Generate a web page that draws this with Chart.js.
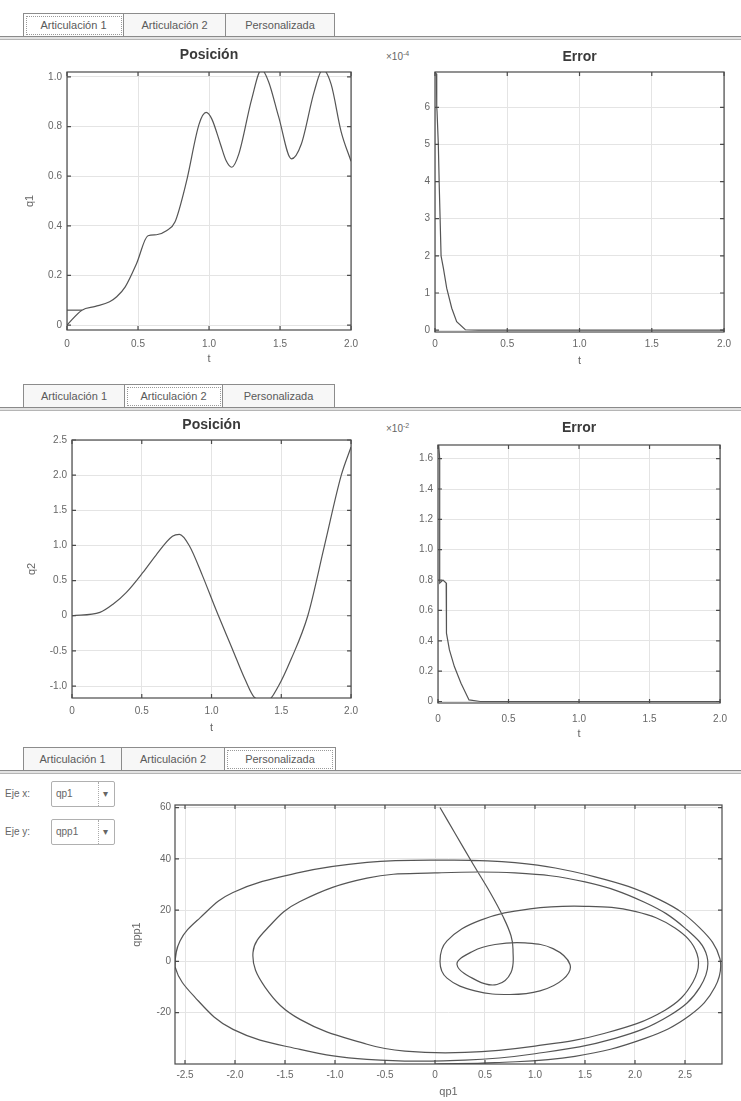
<!DOCTYPE html>
<html>
<head>
<meta charset="utf-8">
<script src="https://cdn.jsdelivr.net/npm/chart.js@4.4.1/dist/chart.umd.min.js"></script>
<style>
body { margin: 0; width: 741px; height: 1101px; background: #fff; position: relative; overflow: hidden;
       font-family: "Liberation Sans", Arial, sans-serif; color: #555; }
canvas { position: absolute; }
.strip { position: absolute; left: 23px; height: 23px; display: flex; border: 1px solid #8c8c8c; border-bottom: none; background: #f7f7f7; z-index: 2; }
.tab { height: 23px; line-height: 23px; font-size: 11px; color: #5a5a5a; text-align: center; border-right: 1px solid #8c8c8c; box-sizing: border-box; }
.tab:last-child { border-right: none; }
.sel { background: #fff; outline: 1px dotted #9a9a9a; outline-offset: -3px; }
.rule { position: absolute; left: 0; width: 741px; height: 2px; border-top: 1px solid #8a8a8a; border-bottom: 1px solid #b5b5b5; background: #e2e2e2; z-index: 2; }
.lbl { position: absolute; left: 5px; font-size: 10px; color: #666; }
.dd { position: absolute; left: 51px; width: 64px; height: 26px; box-sizing: border-box; border: 1px solid #b0b0b0; border-radius: 2px; font-size: 10px; color: #666; line-height: 24px; padding-left: 4px; background: #fff; }
.dd .arr { position: absolute; right: 3px; top: 0; width: 12px; text-align: center; border-left: 1px dotted #aaa; }
.exp { position: absolute; font-size: 10px; color: #666; }
.exp sup { font-size: 7px; }
</style>
</head>
<body>

<div class="strip" style="top:13px">
  <div class="tab sel" style="width:100px">Articulación 1</div>
  <div class="tab" style="width:102px">Articulación 2</div>
  <div class="tab" style="width:108px">Personalizada</div>
</div>
<div class="rule" style="top:36px"></div>

<div class="strip" style="top:384px">
  <div class="tab" style="width:101px">Articulación 1</div>
  <div class="tab sel" style="width:98px">Articulación 2</div>
  <div class="tab" style="width:111px">Personalizada</div>
</div>
<div class="rule" style="top:407px"></div>

<div class="strip" style="top:747px">
  <div class="tab" style="width:98px">Articulación 1</div>
  <div class="tab" style="width:103px">Articulación 2</div>
  <div class="tab sel" style="width:110px">Personalizada</div>
</div>
<div class="rule" style="top:770px"></div>

<div class="lbl" style="top:788px">Eje x:</div>
<div class="dd" style="top:781px">qp1<span class="arr">▾</span></div>
<div class="lbl" style="top:826px">Eje y:</div>
<div class="dd" style="top:819px">qpp1<span class="arr">▾</span></div>

<div class="exp" style="left:386px; top:50px">×10<sup>-4</sup></div>
<div class="exp" style="left:386px; top:422px">×10<sup>-2</sup></div>

<canvas id="pos1"></canvas>
<canvas id="err1"></canvas>
<canvas id="pos2"></canvas>
<canvas id="err2"></canvas>
<canvas id="phase"></canvas>

<script>
// ---- data ----
const t1 = [0, 0.105, 0.2, 0.3, 0.35, 0.41, 0.49, 0.57, 0.63, 0.7, 0.76, 0.84, 0.93, 0.98, 1.02, 1.08, 1.12, 1.16, 1.21, 1.3, 1.37, 1.42, 1.49, 1.58, 1.65, 1.74, 1.8, 1.86, 1.93, 2.0]
const q1 = [0, 0.06, 0.075, 0.094, 0.114, 0.154, 0.248, 0.36, 0.364, 0.38, 0.415, 0.576, 0.81, 0.857, 0.83, 0.73, 0.663, 0.636, 0.69, 0.91, 1.03, 0.98, 0.84, 0.67, 0.73, 0.94, 1.03, 0.97, 0.78, 0.66]
const q1RefT = [0, 0.105]
const q1Ref = [0.06, 0.06]

const errT1 = [0, 0.01, 0.012, 0.014, 0.023, 0.03, 0.042, 0.058, 0.081, 0.116, 0.15, 0.21, 0.3, 2.0]
const err1 = [6.95, 6.9, 6.0, 5.9, 5.0, 3.8, 2.0, 1.67, 1.13, 0.59, 0.23, 0.01, 0, 0]

const t2 = [0, 0.2, 0.296, 0.39, 0.51, 0.6, 0.72, 0.77, 0.84, 0.935, 1.03, 1.15, 1.24, 1.31, 1.4, 1.48, 1.57, 1.69, 1.81, 1.93, 2.0]
const q2 = [0, 0.048, 0.167, 0.333, 0.62, 0.857, 1.13, 1.157, 1.0, 0.571, 0.095, -0.476, -0.905, -1.167, -1.21, -1.0, -0.62, 0, 1.0, 2.0, 2.4]

const errT2 = [0.005, 0.012, 0.012, 0.035, 0.058, 0.06, 0.081, 0.116, 0.163, 0.22, 0.3, 2.0]
const err2 = [1.69, 1.6, 0.78, 0.8, 0.78, 0.45, 0.34, 0.23, 0.12, 0.01, 0, 0]

const qp1 = [0.05, 0.2, 0.38, 0.55, 0.68, 0.76, 0.78, 0.76, 0.62, 0.42, 0.22,
  0.38, 0.6, 0.9, 1.18, 1.35, 1.28, 1.05, 0.75, 0.4, 0.12, 0.05, 0.12,
  0.45, 0.95, 1.5, 2.0, 2.4, 2.62, 2.58, 2.3, 1.7, 1.0, 0.3, -0.3, -0.68, -1.35, -1.7, -1.82, -1.65, -1.35, -0.68, 0,
  0.8, 1.5, 2.1, 2.5, 2.72, 2.65, 2.35, 1.8, 1.0, 0.3, -0.68, -1.35, -2.02, -2.4, -2.6, -2.55, -2.35, -2.02, -1.35, -0.68, 0,
  0.8, 1.6, 2.25, 2.65, 2.85, 2.8, 2.55, 2.1, 1.4, 0.6, 0]
const qpp1 = [60, 50, 38, 27, 17.5, 10, 4.7, -4.3, -9, -7.5, -1.2,
  4, 6.6, 7.2, 5, -1.2, -7, -11.5, -12.9, -11.5, -6.5, 0, 8,
  16, 20.5, 21.5, 19.5, 13, 3, -8, -19, -28, -33, -35.5, -35, -32.3, -22.6, -10, 3.5, 14, 23.4, 32.5, 34.5,
  34.5, 31, 23, 13, 2, -10, -21, -30, -36, -38.5, -38.2, -34.3, -26.5, -14, -2, 8, 17, 26.9, 34.7, 38.6, 39.5,
  38.5, 33, 24, 13, 1, -10, -21, -30, -37, -39.5, -40]

// ---- ticks ----
const tTicks = [0, 0.5, 1, 1.5, 2]
const tLabels = ['0', '0.5', '1.0', '1.5', '2.0']
const q1Ticks = [0, 0.2, 0.4, 0.6, 0.8, 1.0]
const q1Labels = ['0', '0.2', '0.4', '0.6', '0.8', '1.0']
const err1Ticks = [0, 1, 2, 3, 4, 5, 6]
const err1Labels = ['0', '1', '2', '3', '4', '5', '6']
const q2Ticks = [-1, -0.5, 0, 0.5, 1, 1.5, 2, 2.5]
const q2Labels = ['-1.0', '-0.5', '0', '0.5', '1.0', '1.5', '2.0', '2.5']
const err2Ticks = [0, 0.2, 0.4, 0.6, 0.8, 1.0, 1.2, 1.4, 1.6]
const err2Labels = ['0', '0.2', '0.4', '0.6', '0.8', '1.0', '1.2', '1.4', '1.6']
const qp1Ticks = [-2.5, -2, -1.5, -1, -0.5, 0, 0.5, 1, 1.5, 2, 2.5]
const qp1Labels = ['-2.5', '-2.0', '-1.5', '-1.0', '-0.5', '0', '0.5', '1.0', '1.5', '2.0', '2.5']
const qpp1Ticks = [-20, 0, 20, 40, 60]
const qpp1Labels = ['-20', '0', '20', '40', '60']

Chart.defaults.font.family = '"Liberation Sans", Arial, sans-serif'
Chart.defaults.color = '#666'

function pts(xs, ys) {
    return xs.map((x, i) => ({ x: x, y: ys[i] }))
}

function line(xs, ys, smooth) {
    let ds = { data: pts(xs, ys), showLine: true, pointRadius: 0, borderColor: '#555', borderWidth: 1.2 }
    if (smooth === 'mono') ds.cubicInterpolationMode = 'monotone'
    else if (smooth) ds.tension = smooth
    return ds
}

// box round the plot with inward tick marks, like matlab
const matlabBox = {
    id: 'matlabBox',
    afterDatasetsDraw(chart) {
        const { ctx, chartArea: a, scales: { x, y } } = chart
        ctx.save()
        ctx.strokeStyle = '#4a4a4a'
        ctx.lineWidth = 1.2
        ctx.strokeRect(a.left, a.top, a.right - a.left, a.bottom - a.top)
        ctx.beginPath()
        x.ticks.forEach(t => {
            const px = x.getPixelForValue(t.value)
            ctx.moveTo(px, a.bottom); ctx.lineTo(px, a.bottom - 4)
            ctx.moveTo(px, a.top); ctx.lineTo(px, a.top + 4)
        })
        y.ticks.forEach(t => {
            const py = y.getPixelForValue(t.value)
            ctx.moveTo(a.left, py); ctx.lineTo(a.left + 4, py)
            ctx.moveTo(a.right, py); ctx.lineTo(a.right - 4, py)
        })
        ctx.stroke()
        ctx.restore()
    }
}

function makePlot(id, area, pad, o) {
    const cv = document.getElementById(id)
    cv.width = area.w + pad.l + pad.r
    cv.height = area.h + pad.t + pad.b
    cv.style.left = (area.x - pad.l) + 'px'
    cv.style.top = (area.y - pad.t) + 'px'
    let titleTop = o.title ? o.titleY - 7 - (area.y - pad.t) : 0

    return new Chart(cv, {
        type: 'scatter',
        data: { datasets: o.datasets },
        options: {
            responsive: false,
            animation: false,
            events: [],
            layout: { padding: { left: 0, right: pad.r, top: o.title ? 0 : pad.t, bottom: 0 } },
            plugins: {
                legend: { display: false },
                tooltip: { enabled: false },
                title: o.title ? {
                    display: true, text: o.title, fullSize: false, color: '#3a3a3a',
                    font: { size: 14, weight: 'bold', lineHeight: 1 },
                    padding: { top: titleTop, bottom: pad.t - 14 - titleTop }
                } : { display: false }
            },
            scales: {
                x: {
                    type: 'linear', min: o.xMin, max: o.xMax,
                    afterBuildTicks: s => { s.ticks = o.xTicks.map(v => ({ value: v })) },
                    afterFit: s => { s.height = pad.b },
                    ticks: { autoSkip: false, maxRotation: 0, padding: o.xPad, font: { size: 10 },
                             callback: (v, i) => o.xLabels[i] },
                    grid: { color: '#e4e4e4', drawTicks: false },
                    border: { display: false },
                    title: { display: true, text: o.xTitle, color: '#666', font: { size: 11, lineHeight: 1 }, padding: 0 }
                },
                y: {
                    type: 'linear', min: o.yMin, max: o.yMax,
                    afterBuildTicks: s => { s.ticks = o.yTicks.map(v => ({ value: v })) },
                    afterFit: s => { s.width = pad.l },
                    ticks: { autoSkip: false, padding: o.yPad, font: { size: 10 },
                             callback: (v, i) => o.yLabels[i] },
                    grid: { color: '#e4e4e4', drawTicks: false },
                    border: { display: false },
                    title: { display: !!o.yTitle, text: o.yTitle, color: '#666', font: { size: 11, lineHeight: 1 }, padding: 0 }
                }
            }
        },
        plugins: [matlabBox]
    })
}

makePlot('pos1', { x: 67, y: 72, w: 287, h: 258 }, { l: 43, r: 12, t: 30, b: 34 }, {
    title: 'Posición', titleY: 55,
    datasets: [line(t1, q1, 'mono'), line(q1RefT, q1Ref, 0)],
    xMin: 0, xMax: 2, xTicks: tTicks, xLabels: tLabels, xTitle: 't', xPad: 8,
    yMin: -0.02, yMax: 1.02, yTicks: q1Ticks, yLabels: q1Labels, yTitle: 'q1', yPad: 5
})

makePlot('err1', { x: 435, y: 72, w: 290, h: 260 }, { l: 40, r: 12, t: 30, b: 34 }, {
    title: 'Error', titleY: 57,
    datasets: [line(errT1, err1, 0)],
    xMin: 0, xMax: 2, xTicks: tTicks, xLabels: tLabels, xTitle: 't', xPad: 6,
    yMin: -0.05, yMax: 6.95, yTicks: err1Ticks, yLabels: err1Labels, yTitle: '', yPad: 5
})

makePlot('pos2', { x: 72, y: 440, w: 281, h: 258 }, { l: 46, r: 12, t: 30, b: 35 }, {
    title: 'Posición', titleY: 425,
    datasets: [line(t2, q2, 'mono')],
    xMin: 0, xMax: 2, xTicks: tTicks, xLabels: tLabels, xTitle: 't', xPad: 7,
    yMin: -1.17, yMax: 2.5, yTicks: q2Ticks, yLabels: q2Labels, yTitle: 'q2', yPad: 5
})

makePlot('err2', { x: 438, y: 445, w: 287, h: 258 }, { l: 40, r: 12, t: 30, b: 36 }, {
    title: 'Error', titleY: 428,
    datasets: [line(errT2, err2, 0)],
    xMin: 0, xMax: 2, xTicks: tTicks, xLabels: tLabels, xTitle: 't', xPad: 10,
    yMin: -0.01, yMax: 1.69, yTicks: err2Ticks, yLabels: err2Labels, yTitle: '', yPad: 5
})

makePlot('phase', { x: 175, y: 805, w: 547, h: 259 }, { l: 44, r: 10, t: 10, b: 33 }, {
    title: '',
    datasets: [line(qp1, qpp1, 0.4)],
    xMin: -2.6, xMax: 2.87, xTicks: qp1Ticks, xLabels: qp1Labels, xTitle: 'qp1', xPad: 5,
    yMin: -40, yMax: 61, yTicks: qpp1Ticks, yLabels: qpp1Labels, yTitle: 'qpp1', yPad: 4
})
</script>
</body>
</html>
